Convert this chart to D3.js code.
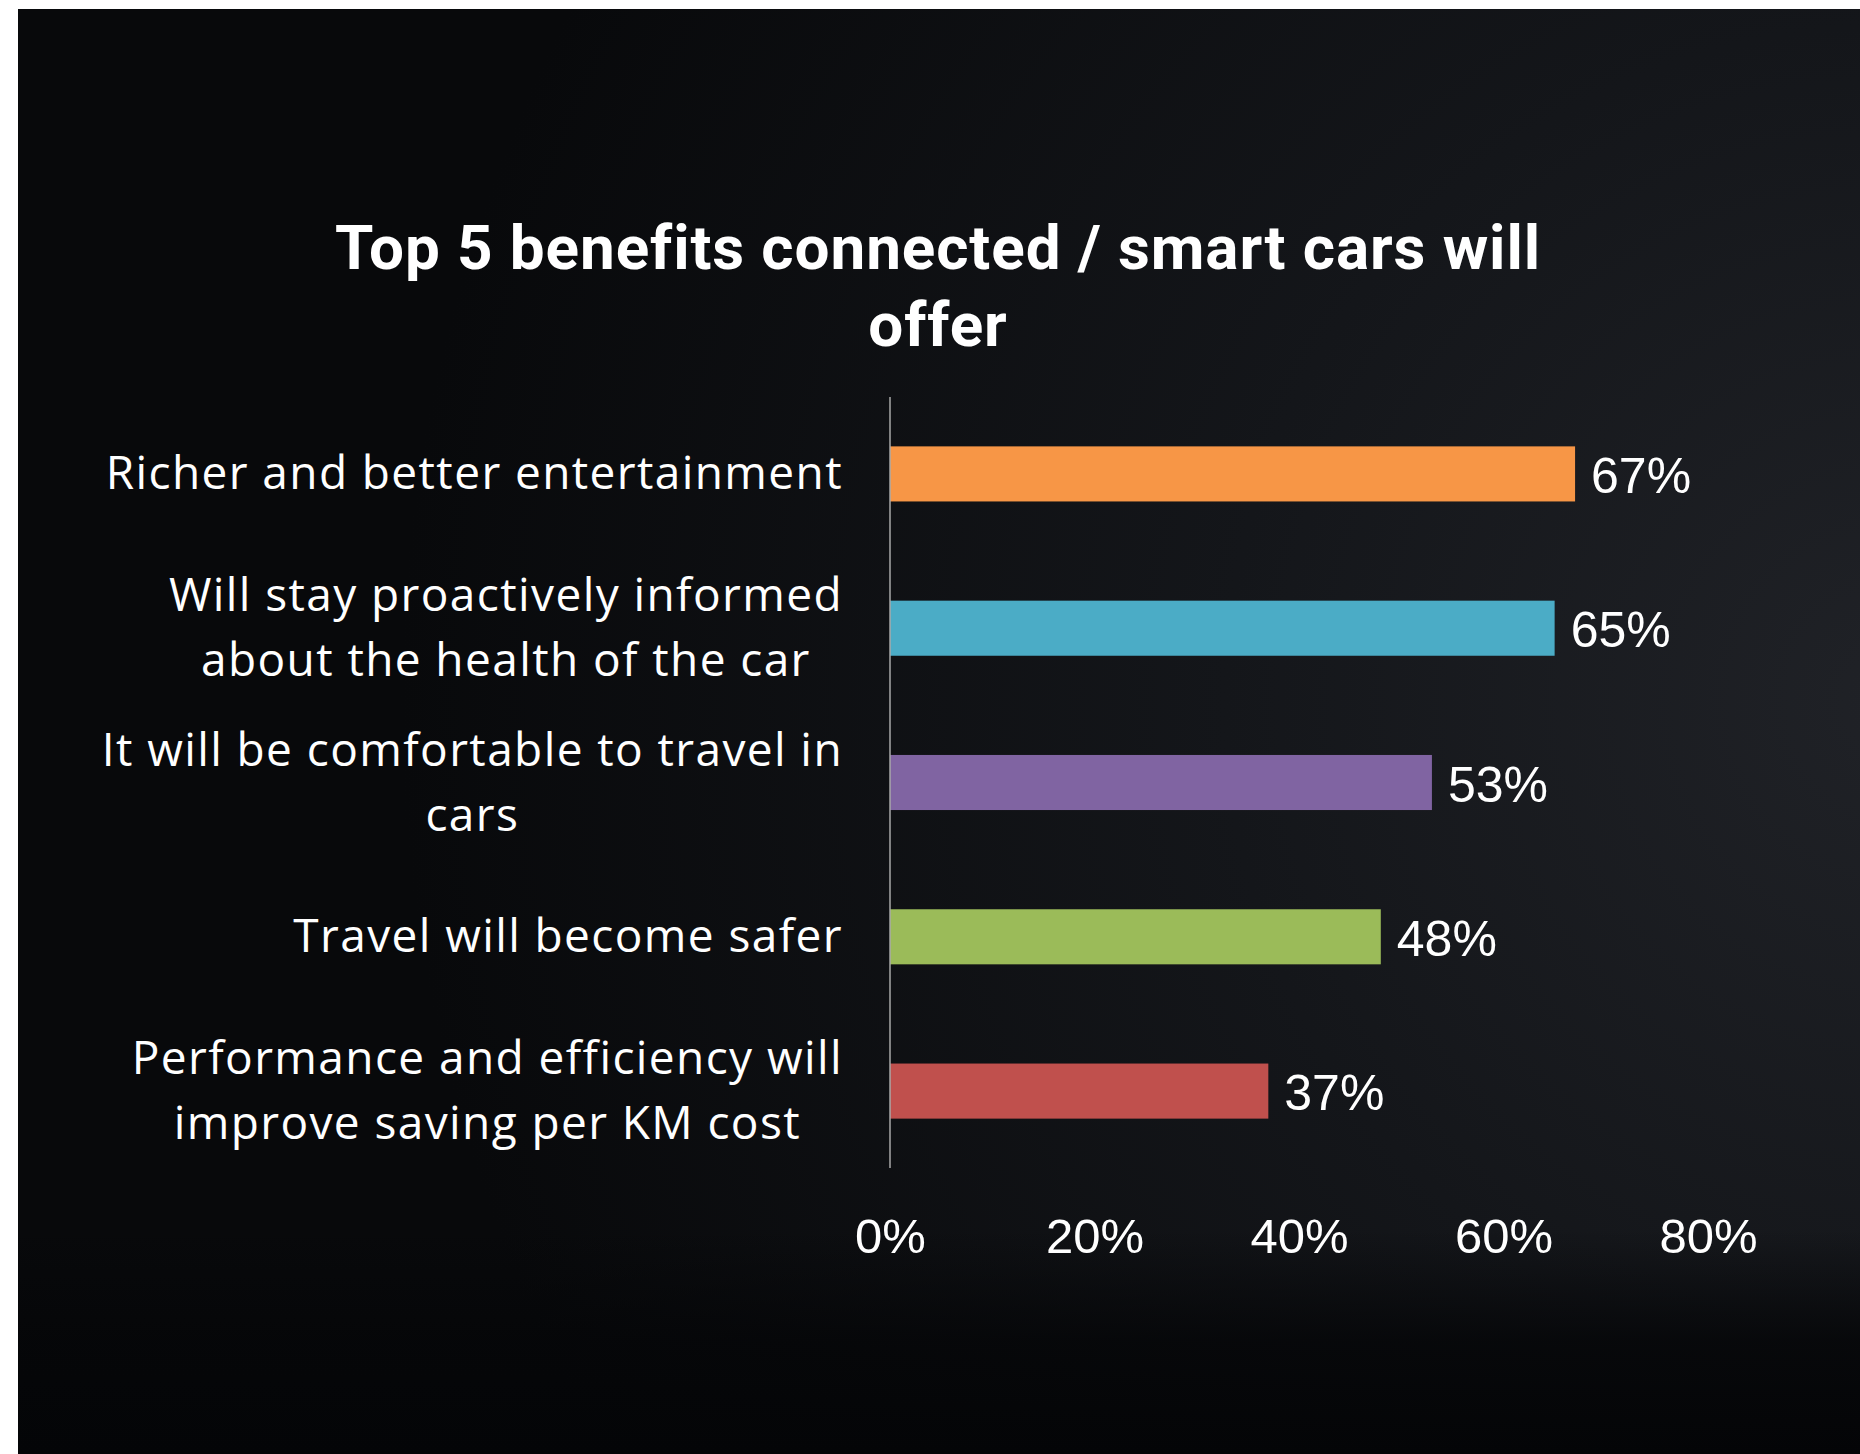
<!DOCTYPE html>
<html><head><meta charset="utf-8">
<script src="https://cdn.jsdelivr.net/npm/d3@7"></script>
<style>html,body{margin:0;padding:0;background:#fff;overflow:hidden}</style>
</head><body>
<svg id="chart" width="1860" height="1454"></svg>
<script>
const titleLines = ["Top 5 benefits connected / smart cars will", "offer"];
const categories = [
  ["Richer and better entertainment"],
  ["Will stay proactively informed", "about the health of the car"],
  ["It will be comfortable to travel in", "cars"],
  ["Travel will become safer"],
  ["Performance and efficiency will", "improve saving per KM cost"]
];
const values = [0.67, 0.65, 0.53, 0.48, 0.37];
const colors = ["#F79646", "#4BACC6", "#8064A2", "#9BBB59", "#C0504D"];
const tickValues = [0, 0.2, 0.4, 0.6, 0.8];

const W = 1860, H = 1454;
const svg = d3.select("#chart");
const defs = svg.append("defs");
const rg = defs.append("radialGradient").attr("id","bg").attr("gradientUnits","userSpaceOnUse")
  .attr("cx",1900).attr("cy",700).attr("r",1500);
rg.append("stop").attr("offset","0").attr("stop-color","#202227");
rg.append("stop").attr("offset","0.45").attr("stop-color","#14161a");
rg.append("stop").attr("offset","1").attr("stop-color","#08090b");
const lg = defs.append("linearGradient").attr("id","bot").attr("x1",0).attr("y1",0).attr("x2",0).attr("y2",1);
lg.append("stop").attr("offset","0").attr("stop-color","#050608").attr("stop-opacity",0);
lg.append("stop").attr("offset","0.5").attr("stop-color","#050608").attr("stop-opacity",0.85);
lg.append("stop").attr("offset","1").attr("stop-color","#040507").attr("stop-opacity",1);

svg.append("rect").attr("x",0).attr("y",0).attr("width",W).attr("height",H).attr("fill","#ffffff");
svg.append("rect").attr("x",18).attr("y",9).attr("width",W-18).attr("height",H-9).attr("fill","url(#bg)");
svg.append("rect").attr("x",18).attr("y",1230).attr("width",W-18).attr("height",H-1230).attr("fill","url(#bot)");

const x = d3.scaleLinear().domain([0, 0.8]).range([890, 1708]);
const y = d3.scaleBand().domain(d3.range(categories.length)).range([397, 1168]).paddingInner(0.643).paddingOuter(0.32);

// title
svg.append("text").attr("x",938).attr("y",247).attr("text-anchor","middle")
  .attr("font-family","Roboto, 'Open Sans', sans-serif").attr("font-weight",700).attr("font-size",62)
  .attr("letter-spacing",0.9)
  .attr("fill","#fff").attr("dominant-baseline","central")
  .selectAll("tspan").data(titleLines).join("tspan")
  .attr("x",938).attr("dy",(d,i)=>i===0?0:77).text(d=>d);

// bars
svg.append("g").selectAll("rect").data(values).join("rect")
  .attr("x", x(0)).attr("y",(d,i)=>y(i)).attr("width",d=>x(d)-x(0)).attr("height",y.bandwidth())
  .attr("fill",(d,i)=>colors[i]);

// value labels
svg.append("g").selectAll("text").data(values).join("text")
  .attr("x",d=>x(d)+16).attr("y",(d,i)=>y(i)+y.bandwidth()/2+2)
  .attr("dominant-baseline","central")
  .attr("font-family","'Liberation Sans', Arial, sans-serif").attr("font-size",50).attr("fill","#fff")
  .text(d=>d3.format(".0%")(d));

// vertical axis line
svg.append("line").attr("x1",x(0)).attr("x2",x(0)).attr("y1",397).attr("y2",1168)
  .attr("stroke","#a9a9a9").attr("stroke-width",1.5);

// x axis labels
const xAxis = d3.axisBottom(x).tickValues(tickValues).tickFormat(d3.format(".0%")).tickSize(0).tickPadding(0);
const gx = svg.append("g").attr("transform","translate(0,1236)").call(xAxis);
gx.select(".domain").remove();
gx.selectAll("text").attr("font-family","'Liberation Sans', Arial, sans-serif").attr("font-size",49)
  .attr("fill","#fff").attr("dy",null).attr("dominant-baseline","central");

// category labels
const labelRight = 843, lineH = 65;
const cg = svg.append("g").attr("font-family","'Open Sans', sans-serif").attr("font-size",46)
  .attr("letter-spacing",1.4).attr("fill","#fff");
categories.forEach((lines,i)=>{
  const cy = y(i)+y.bandwidth()/2 - 2.5;
  const t = cg.append("text").attr("dominant-baseline","central");
  const spans = t.selectAll("tspan").data(lines).join("tspan").text(d=>d);
  const widths = [];
  spans.each(function(){ widths.push(this.getComputedTextLength()); });
  const maxW = d3.max(widths);
  const center = labelRight - maxW/2;
  const y0 = cy - (lines.length-1)*lineH/2;
  spans.attr("x",center).attr("text-anchor","middle").attr("y",(d,j)=>y0+j*lineH);
});
</script>
</body></html>
